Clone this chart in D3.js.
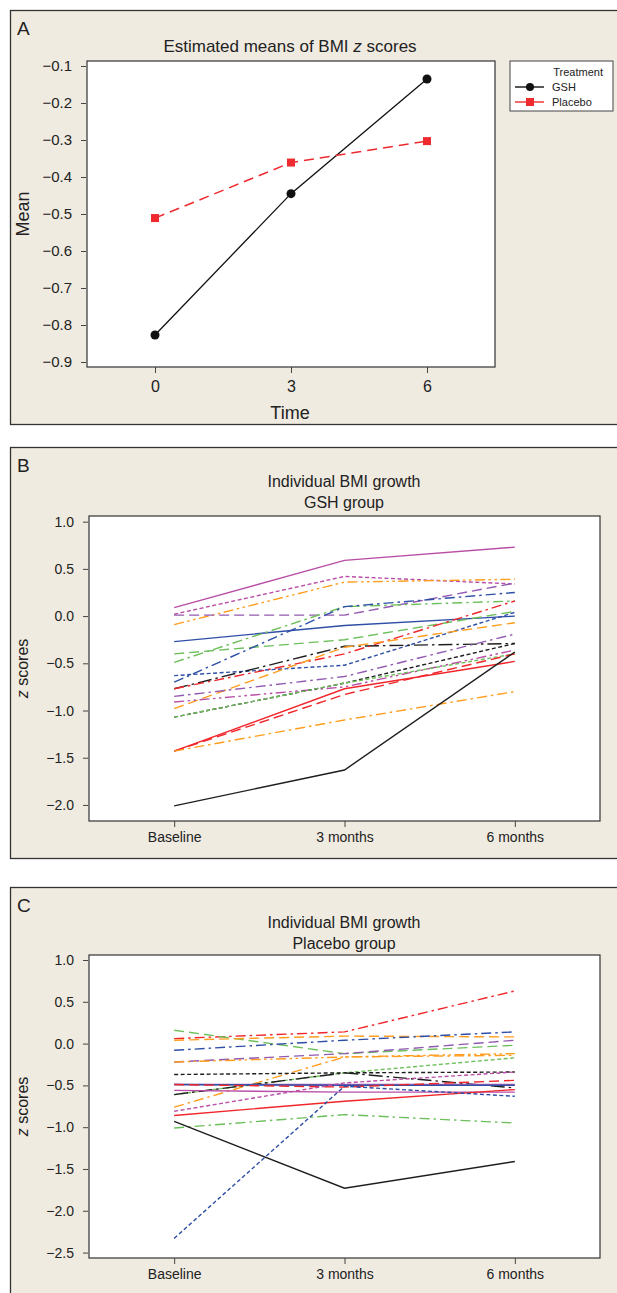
<!DOCTYPE html>
<html lang="en">
  <head>
    <meta charset="UTF-8" />
    <title>BMI z scores</title>
    <script src="https://d3js.org/d3.v7.min.js"></script>
    <style>
      body {
        margin: 0;
        background: #fff;
        font-family: "Liberation Sans", Arial, sans-serif;
      }
      svg {
        display: block;
      }
      .tick text {
        fill: #222;
      }
      .tick line {
        stroke: #444;
      }
    </style>
  </head>
  <body>
    <svg id="chart" width="617" height="1293"></svg>

    <script>
      // ---------------- data ----------------
      // panel A: estimated means
      const timesA = [0, 3, 6];
      const gshMeans = [-0.827, -0.445, -0.135];
      const placeboMeans = [-0.511, -0.361, -0.303];
      const yTicksA = [-0.1, -0.2, -0.3, -0.4, -0.5, -0.6, -0.7, -0.8, -0.9];

      // panels B and C: individual trajectories (baseline, 3 months, 6 months)
      const visits = ["Baseline", "3 months", "6 months"];
      const yTicksB = [1.0, 0.5, 0.0, -0.5, -1.0, -1.5, -2.0];
      const yTicksC = [1.0, 0.5, 0.0, -0.5, -1.0, -1.5, -2.0, -2.5];

      const gshValues = [
        [0.09, 0.59, 0.73],
        [0.02, 0.42, 0.34],
        [-0.09, 0.36, 0.39],
        [0.01, 0.01, 0.35],
        [-0.27, -0.1, 0.0],
        [-0.49, 0.1, 0.16],
        [-0.4, -0.25, 0.05],
        [-0.7, 0.1, 0.25],
        [-0.63, -0.52, 0.04],
        [-0.77, -0.32, -0.29],
        [-0.77, -0.4, 0.16],
        [-0.98, -0.33, -0.07],
        [-0.85, -0.64, -0.19],
        [-0.91, -0.75, -0.36],
        [-1.07, -0.71, -0.29],
        [-1.07, -0.71, -0.4],
        [-1.43, -0.77, -0.48],
        [-1.43, -0.83, -0.4],
        [-1.43, -1.1, -0.8],
        [-2.01, -1.63, -0.38],
      ];
      const gshStyles = [
        ["magenta", "solid"],
        ["magenta", "short"],
        ["orange", "dashdotdot"],
        ["purple", "long"],
        ["blue", "solid"],
        ["green", "dashdot"],
        ["green", "long"],
        ["blue", "dashdot"],
        ["blue", "short"],
        ["black", "longdashdot"],
        ["red", "dashdot"],
        ["orange", "long"],
        ["purple", "dashdot"],
        ["magenta", "dashdotdot"],
        ["black", "short"],
        ["green", "short"],
        ["red", "solid"],
        ["red", "long"],
        ["orange", "dashdot"],
        ["black", "solid"],
      ];

      const placeboValues = [
        [0.06, 0.14, 0.63],
        [0.16, -0.12, -0.02],
        [0.04, 0.09, 0.08],
        [-0.08, 0.04, 0.14],
        [-0.22, -0.12, 0.04],
        [-0.22, -0.16, -0.12],
        [-0.76, -0.16, -0.14],
        [-0.61, -0.35, -0.17],
        [-0.37, -0.35, -0.34],
        [-0.61, -0.35, -0.53],
        [-0.49, -0.49, -0.49],
        [-0.49, -0.5, -0.5],
        [-0.49, -0.52, -0.44],
        [-0.56, -0.58, -0.58],
        [-0.81, -0.47, -0.34],
        [-0.86, -0.69, -0.55],
        [-1.01, -0.85, -0.95],
        [-0.93, -1.73, -1.41],
        [-2.33, -0.51, -0.63],
      ];
      const placeboStyles = [
        ["red", "dashdot"],
        ["green", "long"],
        ["orange", "long"],
        ["blue", "dashdot"],
        ["purple", "long"],
        ["orange", "dashdotdot"],
        ["orange", "dashdot"],
        ["green", "short"],
        ["black", "short"],
        ["black", "longdashdot"],
        ["purple", "solid"],
        ["blue", "solid"],
        ["red", "long"],
        ["magenta", "solid"],
        ["magenta", "short"],
        ["red", "solid"],
        ["green", "dashdot"],
        ["black", "solid"],
        ["blue", "short"],
      ];

      // ---------------- styling ----------------
      const colors = {
        magenta: "#b94ea6",
        orange: "#ff9d1e",
        purple: "#9259b0",
        blue: "#2f4fa6",
        green: "#6dbf5b",
        red: "#f0262b",
        black: "#1e1e1e",
      };
      const dashes = {
        solid: null,
        short: "4,2.5",
        long: "10,5",
        dashdot: "10,4,2.5,4",
        dashdotdot: "10,3.5,2.5,3.5,2.5,3.5",
        longdashdot: "14,4,2.5,4",
      };
      const panelFill = "#f0ebe1";
      const minusFmt = d3.format(".1f");

      const svg = d3.select("#chart");

      function panelFrame(y0, y1, letter) {
        svg
          .append("rect")
          .attr("x", 10.5)
          .attr("y", y0 + 0.5)
          .attr("width", 620)
          .attr("height", y1 - y0)
          .attr("fill", panelFill)
          .attr("stroke", "#333")
          .attr("stroke-width", 1.3);
        svg
          .append("text")
          .attr("x", 17)
          .attr("y", y0 + 25)
          .attr("font-size", 19)
          .attr("fill", "#222")
          .text(letter);
      }

      // ---------------- panel A ----------------
      panelFrame(10, 424, "A");

      const xA = d3.scaleLinear().domain([-1.5, 7.5]).range([87, 495]);
      const yA = d3.scaleLinear().domain([-0.9135, -0.0865]).range([367, 61]);

      svg
        .append("rect")
        .attr("x", 87)
        .attr("y", 61)
        .attr("width", 408)
        .attr("height", 306)
        .attr("fill", "#fff")
        .attr("stroke", "#333")
        .attr("stroke-width", 1.2);

      const axA = svg.append("g").attr("transform", "translate(81,0)");
      axA
        .call(
          d3.axisLeft(yA).tickValues(yTicksA).tickSize(5).tickPadding(4).tickFormat(minusFmt)
        )
        .call((g) => g.select(".domain").remove())
        .selectAll(".tick line")
        .attr("transform", "translate(5,0)");
      axA.selectAll(".tick text").attr("font-size", 15).attr("font-family", "inherit");

      const axAx = svg.append("g").attr("transform", "translate(0,367)");
      axAx
        .call(d3.axisBottom(xA).tickValues(timesA).tickSize(6).tickPadding(8))
        .call((g) => g.select(".domain").remove());
      axAx.selectAll(".tick text").attr("font-size", 16).attr("font-family", "inherit");

      svg
        .append("text")
        .attr("x", 290)
        .attr("y", 52)
        .attr("text-anchor", "middle")
        .attr("font-size", 17)
        .attr("fill", "#222")
        .html('Estimated means of BMI <tspan font-style="italic">z</tspan> scores');

      svg
        .append("text")
        .attr("x", 290)
        .attr("y", 419)
        .attr("text-anchor", "middle")
        .attr("font-size", 18)
        .attr("fill", "#222")
        .text("Time");

      svg
        .append("text")
        .attr("transform", "translate(29,214) rotate(-90)")
        .attr("text-anchor", "middle")
        .attr("font-size", 18)
        .attr("fill", "#222")
        .text("Mean");

      const lineA = d3
        .line()
        .x((d, i) => xA(timesA[i]))
        .y((d) => yA(d));

      svg
        .append("path")
        .attr("d", lineA(gshMeans))
        .attr("fill", "none")
        .attr("stroke", "#111")
        .attr("stroke-width", 1.3);
      svg
        .append("path")
        .attr("d", lineA(placeboMeans))
        .attr("fill", "none")
        .attr("stroke", "#ee2a2e")
        .attr("stroke-width", 1.5)
        .attr("stroke-dasharray", "10,6");

      svg
        .selectAll(".gshDot")
        .data(gshMeans)
        .join("circle")
        .attr("cx", (d, i) => xA(timesA[i]))
        .attr("cy", (d) => yA(d))
        .attr("r", 4.5)
        .attr("fill", "#111");
      svg
        .selectAll(".plSq")
        .data(placeboMeans)
        .join("rect")
        .attr("x", (d, i) => xA(timesA[i]) - 4)
        .attr("y", (d) => yA(d) - 4)
        .attr("width", 8)
        .attr("height", 8)
        .attr("fill", "#ee2a2e");

      // legend
      const leg = svg.append("g").attr("transform", "translate(510,61)");
      leg
        .append("rect")
        .attr("width", 103)
        .attr("height", 50)
        .attr("fill", "#fff")
        .attr("stroke", "#444")
        .attr("stroke-width", 1);
      leg
        .append("text")
        .attr("x", 93)
        .attr("y", 15)
        .attr("text-anchor", "end")
        .attr("font-size", 11)
        .attr("fill", "#222")
        .text("Treatment");
      [
        ["GSH", "#111", 26],
        ["Placebo", "#ee2a2e", 41],
      ].forEach(([name, c, ly], k) => {
        leg
          .append("line")
          .attr("x1", 5)
          .attr("x2", 34)
          .attr("y1", ly)
          .attr("y2", ly)
          .attr("stroke", c)
          .attr("stroke-width", 1.4);
        if (k === 0) {
          leg.append("circle").attr("cx", 20).attr("cy", ly).attr("r", 4).attr("fill", c);
        } else {
          leg
            .append("rect")
            .attr("x", 16)
            .attr("y", ly - 4)
            .attr("width", 8)
            .attr("height", 8)
            .attr("fill", c);
        }
        leg
          .append("text")
          .attr("x", 42)
          .attr("y", ly + 4)
          .attr("font-size", 11)
          .attr("fill", "#222")
          .text(name);
      });

      // ---------------- panels B and C ----------------
      function growthPanel(cfg) {
        panelFrame(cfg.frame[0], cfg.frame[1], cfg.letter);

        const x = d3.scaleLinear().domain([-0.5, 2.5]).range([89, 600]);
        const y = d3.scaleLinear().domain(cfg.domain).range([cfg.bottom, cfg.top]);

        svg
          .append("rect")
          .attr("x", 89)
          .attr("y", cfg.top)
          .attr("width", 511)
          .attr("height", cfg.bottom - cfg.top)
          .attr("fill", "#fff")
          .attr("stroke", "#333")
          .attr("stroke-width", 1.2);

        const ay = svg.append("g").attr("transform", "translate(83,0)");
        ay.call(
          d3.axisLeft(y).tickValues(cfg.ticks).tickSize(5).tickPadding(4).tickFormat(minusFmt)
        )
          .call((g) => g.select(".domain").remove())
          .selectAll(".tick line")
          .attr("transform", "translate(5,0)");
        ay.selectAll(".tick text").attr("font-size", 14).attr("font-family", "inherit");

        const ax = svg.append("g").attr("transform", `translate(0,${cfg.bottom})`);
        ax.call(
          d3
            .axisBottom(x)
            .tickValues([0, 1, 2])
            .tickSize(6)
            .tickPadding(5)
            .tickFormat((d) => visits[d])
        ).call((g) => g.select(".domain").remove());
        ax.selectAll(".tick text").attr("font-size", 14).attr("font-family", "inherit");

        cfg.title.forEach((t, i) => {
          svg
            .append("text")
            .attr("x", 344)
            .attr("y", cfg.titleY + i * 21)
            .attr("text-anchor", "middle")
            .attr("font-size", 16)
            .attr("fill", "#222")
            .text(t);
        });

        svg
          .append("text")
          .attr(
            "transform",
            `translate(28,${(cfg.top + cfg.bottom) / 2}) rotate(-90)`
          )
          .attr("text-anchor", "middle")
          .attr("font-size", 16)
          .attr("fill", "#222")
          .html('<tspan font-style="italic">z</tspan> scores');

        const line = d3
          .line()
          .x((d, i) => x(i))
          .y((d) => y(d));

        svg
          .append("g")
          .selectAll("path")
          .data(cfg.values)
          .join("path")
          .attr("d", (d) => line(d))
          .attr("fill", "none")
          .attr("stroke", (d, i) => colors[cfg.styles[i][0]])
          .attr("stroke-width", 1.4)
          .attr("stroke-dasharray", (d, i) => dashes[cfg.styles[i][1]]);
      }

      growthPanel({
        letter: "B",
        frame: [447, 858],
        top: 516,
        bottom: 821,
        domain: [-2.17, 1.06],
        ticks: yTicksB,
        title: ["Individual BMI growth", "GSH group"],
        titleY: 487,
        values: gshValues,
        styles: gshStyles,
      });

      growthPanel({
        letter: "C",
        frame: [887, 1300],
        top: 955,
        bottom: 1258,
        domain: [-2.565, 1.06],
        ticks: yTicksC,
        title: ["Individual BMI growth", "Placebo group"],
        titleY: 928,
        values: placeboValues,
        styles: placeboStyles,
      });
    </script>
  </body>
</html>
